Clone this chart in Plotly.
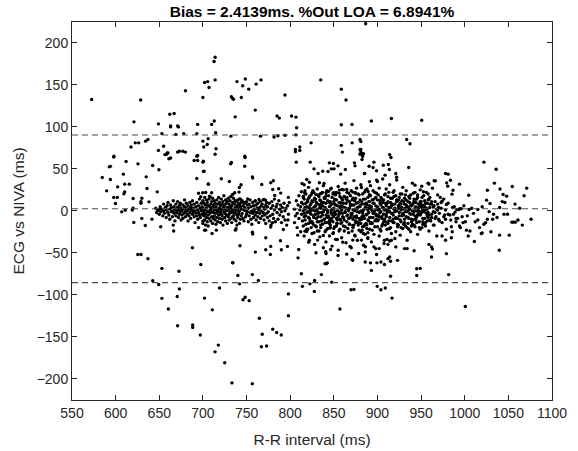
import plotly.graph_objects as go

# ---- summary statistics ----
bias = 2.4139
loa_upper = 90.4
loa_lower = -85.6
title_text = "Bias = 2.4139ms. %Out LOA = 6.8941%"
x_ticks = [550, 600, 650, 700, 750, 800, 850, 900, 950, 1000, 1050, 1100]
y_ticks = [-200, -150, -100, -50, 0, 50, 100, 150, 200]

# ---- data: [R-R interval (ms), ECG - NIVA (ms)] ----
upper_outliers = [
    [572.5,132.6],[598,65],[584.7,39.8],[589.7,23.8],[592.8,52.4],[594,53],[597.8,64],[594,37.4],
    [602.3,28.6],[608.8,43.7],[612,58.8],[610.4,31.8],[615.7,31.8],[621,106],[617.6,76],[622.5,81],
    [626.4,81],[625.6,56],[628.7,132],[635,40.5],[636,26.6],[634.3,83],[637,85],[642.4,54],
    [649,72],[649.6,49],[649,103.6],[653,92],[655,77],[658,67],[660,69],[662,115],[667,116],
    [663,101],[663,100],[671,101],[672,100],[663,63],[669,91],[673,71],[680,143],[677,71],[678,92],
    [694,103],[693,92],[700,135],[701,76],[702,153],[705.5,154],[707,147],[705,79],[694,66],
    [656.5,67],[659,69],[661,62],[671,70],[680,70],[693,65],[690,60],[694,60],[700,58],[693,38.6],
    [700.6,47],[706.3,32],[886.5,223],[714,183],[712.8,178],[714,156],[739,154],[748.6,157],
    [745.6,149],[752.5,145],[732.6,136],[734,134],[735,133],[744,135],[761,151],[766.6,156],
    [760,120],[737,112],[710,103],[713,107],[714.6,93],[700,83],[706,86],[715,74],[732,89],[748,65],
    [766,89],[781.5,88],[786,89.5],[785,113],[787.6,110.5],[794,138],[794,90],[801.6,113],
    [806.6,111.6],[807.4,99],[806.6,90.5],[806,73],[811,76],[824,81],[835,156],[858.6,145],[864,132],
    [858.6,102.5],[870.8,103],[858.6,78],[871,81],[880,85],[880,73],[883,68],[893,107],[916,110],
    [950.7,108],[881,82.5],[933.5,85],[937.3,80],[881,73],[884,68],[914,67],
]

mid_scatter = [
    [714,67.5],[700.5,59.2],[701.3,47.3],[732.6,57.6],[731.8,56],[748.3,63.6],[747.9,53.2],[721.1,38.2],
    [730.3,35],[756.7,40.5],[757,39],[743.7,31],[741.8,27.8],[706.2,31.8],[767.4,31.4],[777.7,33.4],
    [780.7,35.8],[786.8,26.3],[806,70.3],[811,72],[807,58],[823,58],[827.3,50],[819,37.4],[822,34],
    [813.6,32.6],[816,31],[833.5,33.4],[838.8,32.6],[832,44.5],[843.4,46.9],[847.2,50],[850.3,50],
    [844.9,57.2],[849.5,56.4],[854.8,53.6],[857.9,43.7],[863.2,49.3],[873.6,57.2],[874.3,53.6],
    [880,67.5],[882.3,61.2],[885,44.5],[890.4,53.2],[859.8,70],[837.3,47.3],
    [699.8,21.5],[697.5,16.7],[703.2,21.9],[710,21.5],[707.4,17.5],[734,19.5],[736.4,21.5],[741.4,22.3],
    [742.2,14.3],[746.4,10.4],[751.3,14.3],[759.7,11.6],[764.3,13.5],[770,13.5],[771.6,12.8],
    [782.3,18.3],[780,25.5],[789.1,21.1],[797.9,16],[812.8,22.7],[816.6,21.5],[815.1,17.5],[821.2,15.1],
    [825,21.5],[828.5,13.5],[829.3,19.5],[834.6,20.3],[839.2,14.7],[841.1,21.5],[846.4,25.9],
    [849.5,21.5],[851.8,21.5],[856.4,24.7],[859.4,25.5],[864.8,25.5],[871.7,22.3],[874.7,21.5],
    [881.6,27.8],[886.2,24.7],[889.2,23.1],[890.8,19.1],
    [703.2,-23],[710.5,-27],[715.4,-23],[737.2,-23],[738,-21.4],[756.7,-25.4],[757,-27.7],[742.5,-41.6],
    [734,-61.9],[760.1,-49.2],[772,-32],[772,-46.4],[777.7,-42.4],[777.3,-52],[789.9,-46.4],
    [796.8,-42.4],[788.8,-35.7],[792.2,-22.2],[777.7,-19.4],[779.6,-14.2],[797.5,-11],[808.6,-29],
    [809.8,-46],[809,-56],[817,-24.2],[819,-24.6],[821.2,-37.3],[823.1,-13.8],[827.3,-26.2],
    [831.5,-34.9],[829.6,-50],[838,-29.3],[845.3,-20.6],[844.9,-11.9],[849.5,-26.2],[854,-34.1],
    [860.2,-37.3],[840.7,-48.8],[841.1,-50.8],[846.4,-46],[841.9,-62.7],[854.8,-53.2],
    [864.8,-51.6],[870.9,-57.9],[878.5,-50.8],[868.6,-42.4],[874.3,-30.1],[871.7,-34.9],[881.6,-34.9],
    [886.2,-42.8],[883.9,-27],[882.3,-23],[887.7,-16.6],[871.7,-17.4],[877.4,-13.5],[849.5,-7.1],
    [853.3,-15],[857.1,-10.3],[850.6,-3.1],
]

right_scatter = [
    [883,65],[881,70],[896,58],[915.5,63.6],[935.8,51.7],[885.3,44.5],[899,47.7],[895,51.7],
    [906.7,54.4],[908.7,42.5],[912.5,55.2],[913.6,49.3],[921,44.5],[922,36.6],[890.7,34.6],[899,36.6],
    [958,33],[965,35.8],[952.6,22.7],[943,30.6],[950.7,29.4],
    [1022,58],[1036,49.6],[1034,33],[1040.4,26],[1054.5,29],[1071,27],[1026,24.6],[1044,19.5],
    [1048,17.5],[1025,12.7],[1029,8.8],[1057.6,8],[1020,4.8],[1040,4],[1063,3],[1045,-4],[1049,-4],
    [1033,-4],[1026,-10],[1032,-10],[1054,-13.5],[1056,-13.5],[1058,-13.5],[1022,-16],[1024,-14],
    [1030,-25],[1020,-26.5],[1040,-29],[1051,-29],[1039.6,-47],[1004,-30],[1011,-36.5],[1019,-27],
    [1006,-24],[1002,-23],[998,-14],[1000.7,-13],[1012,-13],[1015,-11],[997,-7],[993,1.6],[996,2.4],
    [1005,1.6],[1015,1.6],[994,31.8],[1004.6,18.6],[986.6,24.6],[985.4,19.9],[980.5,29.4],
    [979.3,33.3],[978,44.5],[981,43.7],[983.6,36.5],[966.4,35.7],[959,32],[972,16],[974,11.5],
    [979,7.6],[988,5],[991,1.6],[994.5,2.5],[989,-1.5],[987,-4],[984,-11],[992,-9],[977,-5],[974,-14],
    [979,-22],[984.7,-19],[985.7,-25],[994,-18],[974,-30],[978,-35],[984.7,-32],[979,-51],[962,-55],
    [962,-43],[963,-45.6],[959,-40],[942,-47.6],[949,-68.6],[931,-45],[934,-45],[921,-43],[907.5,-39],
    [911,-34],[916,-35],[914,-36],[902,-45],[896,-43],[892,-62],[899,-52],[912,-57],[914,-55],[923,-59],
    [886,-49],[889,-26],[889,-32],[1076,-10],
]

lower_outliers = [
    [620.8,-13.8],[630,-9],[634,-17.4],[641.6,-9.9],[651.6,-19],[666,-17],[666.5,-24],[688,-44],
    [695,-20],[702,-23],[653,-68.6],[697.6,-64],[629,-52],[625.4,-52],[637,-57],
    [642.5,-83.3],[649.4,-87.7],[653,-104.3],[660.4,-117],[671,-137],[670.6,-102],[673,-93],
    [672.5,-72],[688.3,-136],[688.3,-139],[697,-148],[701.8,-104],[734.5,-62],[719,-92],[710.8,-118],
    [713.9,-168],[717.7,-160],[725,-181],[733.3,-205],[756.6,-206],[740,-77],[742,-87],[746,-106],
    [748.4,-103],[753,-107],[756.6,-76],[763.5,-83],[764.7,-128],[768,-147],[767,-162],[773,-161],
    [780,-141],[784.5,-145],[789.8,-148],[798,-99],[798,-125],[812.8,-75],[814,-90],[822.6,-87],
    [828,-83],[827.7,-96],[835.7,-76],[840,-63],[842.5,-62],[847.6,-85],[857,-117],[869.7,-94],
    [873,-93.6],[871.6,-59],[886,-61],[893,-71],[899.4,-62],[904,-61],[908,-64],[915,-60],[915,-78],
    [899.8,-90],[904,-94],[909,-92],[916.7,-104],[945,-69],[945,-77],[981.6,-76],[1000.7,-114],
]

band_left = [
    [597.8,16],[601.9,16],[599.8,8.8],[609.5,20.4],[610.4,22.6],[607,-1.2],[611,0.8],[619,1],[620,3],
    [620,14.7],[629,9],[629,11],[630,15],[638.2,10.7],[647.7,22.6],[651,2.5],[649,0.5],[695,21],
    [646,3],[647,-2],[648,1],[650,-4],[651,5],[652,-1],[653,2],[654,-6],[655,0],[655,8],[656,-3],
    [657,4],[658,-8],[658,1],[659,6],[660,-2],[660,10],[661,-5],[662,2],[662,-10],[663,7],[664,-1],
    [664,4],[665,-7],[666,0],[666,12],[667,-3],[667,5],[668,-12],[668,2],[669,8],[669,-6],[670,0],
    [670,-2],[671,4],[671,11],[672,-8],[672,1],[673,-4],[673,6],[674,-1],[674,9],[675,-11],[675,3],
    [676,-5],[676,0],[677,7],[677,-9],[678,2],[678,-3],[679,5],[679,13],[680,-1],[680,-7],[681,3],
    [681,9],[682,-4],[682,0],[683,6],[683,-12],[684,2],[684,-6],[685,10],[685,-2],[686,4],[686,-9],
    [687,1],[687,7],[688,-4],[688,12],[689,-1],[689,3],[690,-7],[690,8],[691,0],[691,-14],[692,5],
    [692,-3],[693,10],[693,-6],[694,1],[694,-10],[695,6],[695,-2],[696,14],[696,-5],[697,3],[697,-8],
    [698,0],[698,9],[699,-4],[699,5],[700,-12],[700,2],
]

band_mid_rows = [
    [700,[-15,4,12]],[701,[-6,9,-2]],[702,[1,-11,16]],[703,[-4,7,-17]],[704,[3,-8,13]],
    [705,[-1,10,-13]],[706,[6,-5,-18]],[707,[0,14,-9]],[708,[-3,5,17]],[709,[8,-12,2]],
    [710,[-7,11,-1]],[711,[4,-15,15]],[712,[-2,7,-9]],[713,[12,-6,1]],[714,[-11,3,9]],
    [715,[5,-3,-16]],[716,[-8,13,0]],[717,[2,-13,8]],[718,[-5,16,-1]],[719,[10,-9,3]],
    [720,[-2,6,-14]],[721,[14,-4,1]],[722,[-10,8,-6]],[723,[3,-17,11]],[724,[-1,5,18]],
    [725,[7,-8,-3]],[726,[-12,2,13]],[727,[9,-5,0]],[728,[-15,4,11]],[729,[1,-7,15]],
    [730,[-4,8,-11]],[731,[12,-1,5]],[732,[-9,3,17]],[733,[6,-14,-2]],[734,[0,10,-7]],
    [735,[-6,15,2]],[736,[8,-10,-3]],[737,[-2,4,12]],[738,[11,-12,1]],[739,[-5,6,-17]],
    [740,[3,13,-8]],[741,[-1,9,-4]],[742,[7,-15,0]],[743,[-10,5,14]],[744,[2,-6,10]],
    [745,[-3,12]],[746,[6,-9]],[747,[-12,1]],[748,[4,9]],[749,[-7,0]],[750,[11,-4]],[751,[-1,7]],
    [752,[-13,3]],[753,[8,-6]],[754,[-2,13]],[755,[5,-10]],[756,[0,-16]],[757,[10,-3]],[758,[-8,6]],
    [759,[2,-1]],[760,[-5,12]],[761,[7,-11]],[762,[-2,3]],[763,[9,-7]],[764,[-14,1]],[765,[4,-3]],
    [766,[-9,11]],[767,[0,6]],[768,[-6,8]],[769,[13,-2]],[770,[-11,4]],[771,[2,-5]],[772,[7,-15]],
    [773,[-3,10]],[774,[5,-8]],[775,[-1]],[776,[9,-12]],[777,[-6]],[778,[3,-17]],[779,[11]],
    [780,[-4,6]],[781,[-9]],[782,[1,14]],[783,[-13]],[784,[5]],[785,[-2,8]],[786,[-10]],[787,[12]],
    [788,[-5,2]],[789,[7]],[790,[-14,-1]],[791,[4]],[792,[-7]],[793,[9]],[794,[0,-11]],[795,[3]],
    [796,[-17]],[797,[6]],[798,[-4]],[799,[10]],
]

band_centre_rows = [
    [805,[2,-14]],[806,[-6]],[807,[12]],[808,[-3,-20]],[809,[7]],[810,[-9,18]],[811,[1]],[812,[-25,5]],
    [813,[10,-4]],[814,[-12]],[815,[16,0]],[816,[-7,-30]],[817,[4,24]],[818,[-16,9]],[819,[-2]],
    [820,[13,-22]],[821,[-8,28]],[822,[3,-35]],[823,[-12,7]],[824,[19,-4]],[825,[-27,1]],
    [826,[11,-15]],[827,[-6,22]],[828,[5,-40]],[829,[-18,14]],[830,[0,-9]],[831,[26,-24]],
    [832,[-3,8]],[833,[-13,17]],[834,[4,-31]],[835,[-7,12,-20]],[836,[21,-2]],[837,[-16,6]],
    [838,[-44,30]],[839,[2,-10]],[840,[-25,15]],[841,[9,-5,-37]],[842,[-14,24]],[843,[0,-21]],
    [844,[18,-8]],[845,[-30,5]],[846,[11,-17]],[847,[-2,27]],[848,[-12,8,-42]],[849,[20,-27]],
    [850,[3,-6]],[851,[-19,14]],[852,[7,-34]],[853,[-9,22]],[854,[0,-15]],[855,[29,-47]],
    [856,[-4,10]],[857,[-22,17]],[858,[6,-11]],[859,[-32,1]],[860,[13,-7]],[861,[-18,25]],
    [862,[4,-24]],[863,[-1,33]],[864,[9,-38]],[865,[-13,16]],[866,[2,-5]],[867,[-26,21]],
    [868,[11,-16]],[869,[-8,6]],[870,[24,-44]],[871,[-3,13]],[872,[-20,-10]],[873,[7,36]],
    [874,[-29,0]],[875,[15,-14]],[876,[-6,27]],[877,[3,-35]],[878,[-17,10]],[879,[19,-2]],
    [880,[-11,5]],[881,[-25,31]],[882,[8,-7]],[883,[-1,-19]],[884,[14,-41]],[885,[-9,22]],
    [886,[4,-28]],[887,[-15,9]],[888,[26,-4]],[889,[-33,1]],[890,[11,-12]],
]

band_right_rows = [
    [891,[-22,6,18]],[892,[-8,30]],[893,[2,-37]],[894,[-15,13]],[895,[24,-3]],[896,[-28,9]],
    [897,[0,-12]],[898,[16,-45]],[899,[-6,21]],[900,[5,-19,35]],[901,[-11,1]],[902,[27,-30]],
    [903,[-2,12]],[904,[-24,7]],[905,[14,-9]],[906,[-16,38]],[907,[3,-4]],[908,[-35,19]],
    [909,[9,-13]],[910,[-7,26]],[911,[1,-22]],[912,[17,-40]],[913,[-12,4]],[914,[31,-1]],
    [915,[-20,10]],[916,[6,-27]],[917,[-3,15]],[918,[22,-10]],[919,[-14,2]],[920,[8,-33]],
    [921,[-25,18]],[922,[0,40]],[923,[-9,12]],[924,[13,-17]],[925,[-2,5]],[926,[20,-29]],
    [927,[-13,8]],[928,[4,-6]],[929,[28,-21]],[930,[-5,11]],[931,[15,-14]],[932,[-18,3]],
    [933,[7,24]],[934,[-1,-35]],[935,[11,-8]],[936,[-22,17]],[937,[2,-3]],[938,[19,-25]],
    [939,[-10,6]],[940,[33,-16]],[941,[-4,9]],[942,[12,-1]],[943,[-19,22]],[944,[5,-11]],
    [945,[-7,14]],[946,[16,-28]],[947,[0,3]],[948,[-13,8]],[949,[25,-5]],[950,[-3,11]],
    [951,[7,-20]],[952,[-16,2]],[953,[18]],[954,[-9,5]],[955,[1,-14]],[956,[22]],[957,[-6,9]],
    [958,[13,-2]],[959,[-24]],[960,[4,16]],[961,[-12]],[962,[8,-4]],[963,[27]],[964,[-1]],
    [965,[-17,6]],[966,[11]],[967,[-7]],[968,[2,-30]],[969,[19]],[970,[-10,4]],
]

band_core_rows = [
    [815,[8,-18]],[816,[-3,14]],[817,[-11,2]],[818,[20,-6]],[819,[5,-22]],[820,[-1,11]],
    [821,[-15,4]],[822,[17,-9]],[823,[0,-3]],[824,[-20,9]],[825,[12,-13]],[826,[3,24]],
    [827,[-8,-17]],[828,[15,0]],[829,[-4,6]],[830,[10,-19]],[831,[-13,2]],[832,[19,-7]],
    [833,[-2,-24]],[834,[7,13]],[835,[-17,3]],[836,[9,-12]],[837,[22,-5]],[838,[-1,10]],
    [839,[-10,16]],[840,[4,-14]],[841,[-23,18]],[842,[1,-8]],[843,[12,-2]],[844,[-6,23]],
    [845,[-15,10]],[846,[6,-20]],[847,[-9,1]],[848,[16,-4]],[849,[2,-13]],[850,[-21,11]],
    [851,[8,-1]],[852,[-4,19]],[853,[13,-18]],[854,[-11,6]],[855,[0,-7]],[856,[21,-24]],
    [857,[-2,4]],[858,[10,-15]],[859,[-14,15]],[860,[5,-3]],[861,[-8,9]],[862,[17,-11]],
    [863,[-19,-2]],[864,[3,14]],[865,[-6,22]],[866,[12,-21]],[867,[0,-9]],[868,[-16,3]],
    [869,[8,18]],[870,[-3,-5]],[871,[-24,7]],[872,[15,1]],[873,[-7,-17]],[874,[2,12]],
    [875,[-12,21]],[876,[9,-8]],[877,[-1,4]],[878,[20,-14]],[879,[-9,-23]],[880,[6,13]],
    [881,[-15,0]],[882,[11,-10]],[883,[-3,20]],[884,[1,-6]],[885,[-18,8]],[886,[14,-16]],
    [887,[-5,3]],[888,[7,-21]],[889,[-11,16]],[890,[3,-2]],[891,[-8,11]],[892,[18,-15]],
    [893,[-14,5]],[894,[0,-23]],[895,[9,-8]],[896,[-3,14]],[897,[-19,22]],[898,[6,-4]],
    [899,[-10,2]],[900,[13,-12]],[901,[-5,19]],[902,[2,-7]],[903,[-22,9]],[904,[16,-1]],
    [905,[-7,-18]],[906,[10,4]],[907,[-13,13]],[908,[1,-10]],[909,[-17,20]],[910,[6,-5]],
    [911,[-2,9]],[912,[11,-15]],[913,[22,0]],[914,[-8,-21]],[915,[4,15]],[916,[-12,-3]],
    [917,[8,7]],[918,[-5,-14]],[919,[17,24]],[920,[-1,3]],[921,[-9,-8]],[922,[13,11]],
    [923,[-16,-19]],[924,[3,6]],[925,[-6,16]],[926,[9,-11]],[927,[-20,1]],[928,[12,20]],
    [929,[-3,-4]],[930,[2,-16]],[931,[-10,8]],[932,[19,-1]],[933,[-7,13]],[934,[5,-20]],
    [935,[-15,4]],[936,[1,-9]],[937,[10,15]],[938,[-4,6]],[939,[-18,-13]],[940,[7,0]],
    [941,[-11,21]],[942,[14,-17]],[943,[3,-6]],[944,[-9,10]],[945,[0,-14]],[946,[-5,19]],
    [947,[8,-3]],[948,[-20,5]],[949,[11,-22]],[950,[-1,7]],[951,[4,16]],[952,[-13,-9]],
    [953,[6,-1]],[954,[-16,12]],[955,[9,-18]],[956,[-3,3]],[957,[2,-12]],[958,[-8,20]],
    [959,[14,-5]],[960,[-11,8]],
    [962,[-8,11]],[964,[5,-17]],[966,[-2,-9]],[969,[8,1]],[971,[-12,-3]],[973,[3,10]],
    [976,[-7,14]],[978,[1,-10]],[981,[9,-4]],[983,[-5]],[986,[4]],[990,[-9,-13]],[995,[-20]],
    [999,[6]],[1003,[-6]],[1008,[3]],[1010,[-3]],[1017,[-20]],[1028,[-1]],[1037,[-8]],
    [1043,[11]],[1046,[10]],[1061,[-11]],[1066,[-17]],[1068,[18]],
]

# ---- assemble ----
rr_interval, difference = [], []
for grp in (upper_outliers, mid_scatter, right_scatter, lower_outliers, band_left):
    for x, y in grp:
        rr_interval.append(x)
        difference.append(y)
for rows in (band_mid_rows, band_centre_rows, band_right_rows, band_core_rows):
    for x, ys in rows:
        for y in ys:
            rr_interval.append(x)
            difference.append(y)

axis_col = "#262626"
font_family = "Liberation Sans, Arial, Helvetica, sans-serif"

fig = go.Figure()
fig.add_trace(go.Scatter(
    x=rr_interval, y=difference, mode="markers",
    marker=dict(color="black", size=3.4, line=dict(width=0)),
    hoverinfo="skip", showlegend=False,
))

for yv in (loa_upper, bias, loa_lower):
    fig.add_shape(type="line", xref="paper", x0=0, x1=1, yref="y", y0=yv, y1=yv,
                  line=dict(color="#4d4d4d", width=1.1, dash="6px,4px"))

fig.update_layout(
    width=578, height=451,
    margin=dict(l=72, r=26, t=22, b=51, autoexpand=False),
    paper_bgcolor="white", plot_bgcolor="white",
    font=dict(family=font_family, size=14, color=axis_col),
    title=dict(text="<b>" + title_text + "</b>", xref="paper", x=0.5, xanchor="center",
               yref="container", y=0.975, yanchor="middle",
               font=dict(size=15.5, color="black")),
    showlegend=False,
)
fig.update_xaxes(
    range=[550, 1100], tickmode="array", tickvals=x_ticks,
    ticks="inside", ticklen=5, tickcolor=axis_col, tickwidth=1,
    showline=True, linecolor=axis_col, linewidth=1, mirror="ticks",
    showgrid=False, zeroline=False, automargin=False,
    title=dict(text="R-R interval (ms)", font=dict(size=15.5), standoff=14),
    tickfont=dict(size=14),
)
fig.update_yaxes(
    range=[-225.4, 225], tickmode="array", tickvals=y_ticks,
    ticks="inside", ticklen=5, tickcolor=axis_col, tickwidth=1,
    showline=True, linecolor=axis_col, linewidth=1, mirror="ticks",
    showgrid=False, zeroline=False, automargin=False,
    title=dict(text="ECG vs NIVA (ms)", font=dict(size=15.5), standoff=8),
    tickfont=dict(size=14),
)

fig.write_html(
    "out.html",
    config={"displayModeBar": False, "staticPlot": True},
    post_script="document.body.style.margin='0';document.body.style.overflow='hidden';",
)
